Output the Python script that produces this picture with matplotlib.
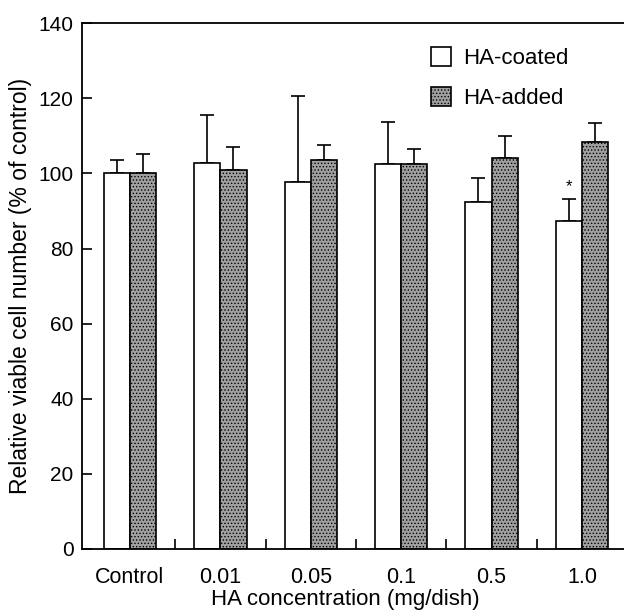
import matplotlib
matplotlib.use("Agg")
import matplotlib.pyplot as plt
import numpy as np

plt.rcParams['font.family'] = ['Liberation Sans', 'DejaVu Sans']
plt.rcParams['hatch.linewidth'] = 0.6

categories = ["Control", "0.01", "0.05", "0.1", "0.5", "1.0"]
coated_mean = [100.0, 102.7, 97.6, 102.6, 92.4, 87.3]
coated_err = [3.5, 12.8, 22.9, 11.0, 6.5, 5.8]
added_mean = [100.0, 100.9, 103.5, 102.5, 104.0, 108.3]
added_err = [5.3, 6.1, 4.0, 4.0, 6.0, 5.2]
significant = [False, False, False, False, False, True]

fig = plt.figure(figsize=(6.24, 6.14), dpi=100)
ax = fig.add_axes([0.1314, 0.1059, 0.8686, 0.8562])

x = np.arange(len(categories))
w = 0.29

ax.bar(x - w / 2, coated_mean, w, color='white', edgecolor='black', linewidth=1.2,
       label='HA-coated', zorder=2)
ax.bar(x + w / 2, added_mean, w, color='#a0a0a0', edgecolor='black', linewidth=1.2,
       hatch='.....', label='HA-added', zorder=2)

ax.errorbar(x - w / 2, coated_mean, yerr=[np.zeros(len(x)), coated_err], fmt='none',
            ecolor='black', elinewidth=1.2, capsize=5, capthick=1.2, zorder=1)
ax.errorbar(x + w / 2, added_mean, yerr=[np.zeros(len(x)), added_err], fmt='none',
            ecolor='black', elinewidth=1.2, capsize=5, capthick=1.2, zorder=1)

for i, s in enumerate(significant):
    if s:
        ax.text(x[i] - w / 2, coated_mean[i] + coated_err[i] + 3.5, '*',
                ha='center', va='center', fontsize=12)

ax.set_xlim(-0.53, 5.465)
ax.set_ylim(0, 140)
ax.set_yticks(np.arange(0, 141, 20))
ax.set_xticks(x)
ax.set_xticklabels(categories)
ax.set_xticks(x[:-1] + 0.5, minor=True)
ax.tick_params(axis='x', which='major', length=0, pad=13, labelsize=15.5)
ax.tick_params(axis='x', which='minor', direction='in', length=7, width=1.2)
ax.tick_params(axis='y', direction='in', length=7, width=1.2, pad=6, labelsize=15)

for sp in ['left', 'bottom', 'top']:
    ax.spines[sp].set_linewidth(1.3)
ax.spines['right'].set_visible(False)

ax.set_xlabel('HA concentration (mg/dish)', fontsize=16)
ax.xaxis.set_label_coords(0.486, -0.077)
ax.set_ylabel('Relative viable cell number (% of control)', fontsize=16.5)
ax.yaxis.set_label_coords(-0.092, 0.5)

leg = ax.legend(loc='upper left', bbox_to_anchor=(0.644, 0.954), frameon=False,
                fontsize=16, handlelength=0.9, handleheight=0.9, labelspacing=0.8,
                handletextpad=0.55, borderpad=0, borderaxespad=0)

fig.savefig('out.png', dpi=100)
